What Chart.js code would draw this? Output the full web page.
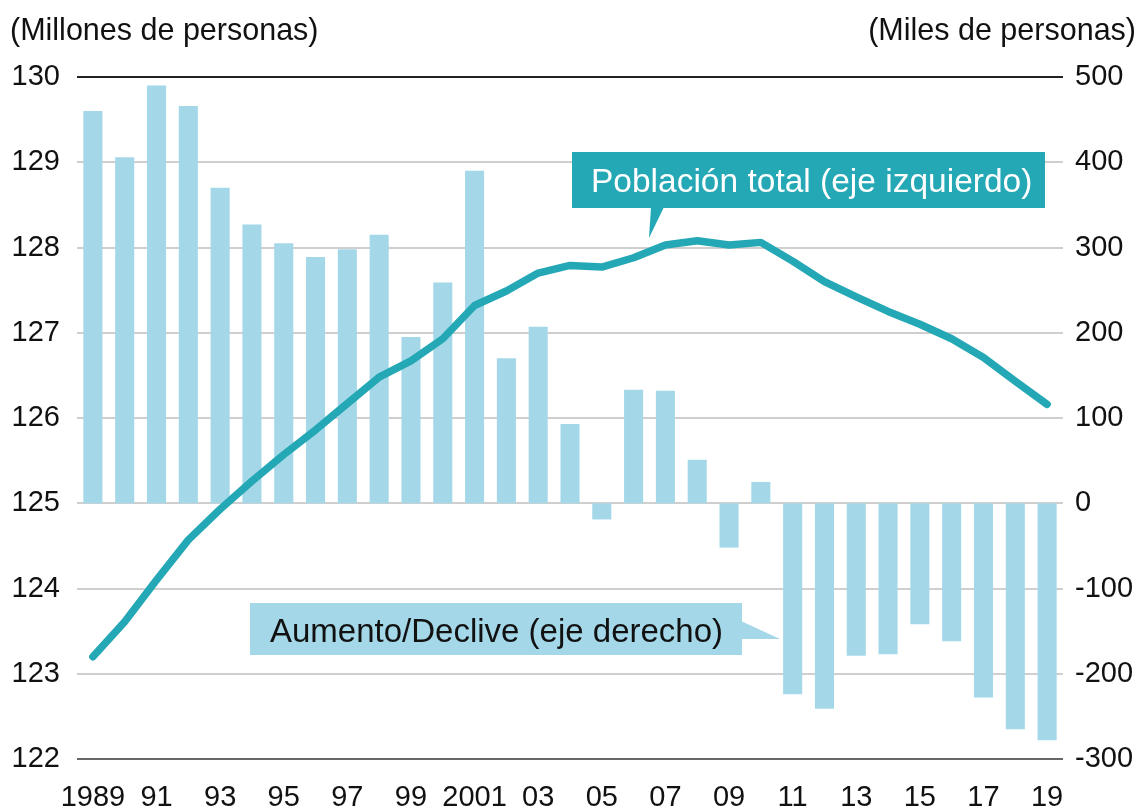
<!DOCTYPE html>
<html>
<head>
<meta charset="utf-8">
<script src="https://cdn.jsdelivr.net/npm/chart.js@4/dist/chart.umd.min.js"></script>
<style>
  html, body { margin: 0; padding: 0; background: #ffffff; }
  #wrap { width: 1142px; height: 811px; }
</style>
</head>
<body>
<div id="wrap"><canvas id="c" width="1142" height="811"></canvas></div>
<script>
// ---- Data ----
const years = [1989,1990,1991,1992,1993,1994,1995,1996,1997,1998,1999,2000,2001,2002,2003,2004,2005,2006,2007,2008,2009,2010,2011,2012,2013,2014,2015,2016,2017,2018,2019];
const xTickLabels = ['1989','','91','','93','','95','','97','','99','','2001','','03','','05','','07','','09','','11','','13','','15','','17','','19'];
// Aumento/Declive (miles de personas, eje derecho)
const changeThousands = [460,406,490,466,370,327,305,289,298,315,195,259,390,170,207,93,-19,133,132,51,-52,25,-224,-241,-179,-177,-142,-162,-228,-265,-278];
// Población total (millones de personas, eje izquierdo)
const populationMillions = [123.20,123.61,124.10,124.57,124.93,125.26,125.57,125.86,126.17,126.48,126.67,126.93,127.32,127.49,127.70,127.79,127.77,127.88,128.03,128.08,128.03,128.06,127.84,127.60,127.42,127.25,127.10,126.93,126.71,126.43,126.16];
const leftTicks = [122,123,124,125,126,127,128,129,130];
const rightTicks = [-300,-200,-100,0,100,200,300,400,500];
const leftAxisTitle = '(Millones de personas)';
const rightAxisTitle = '(Miles de personas)';
const lineLabel = 'Población total (eje izquierdo)';
const barLabel = 'Aumento/Declive (eje derecho)';

const FONT = "'Liberation Sans', Arial, Helvetica, sans-serif";
const TEAL = '#25a8b5';
const LIGHT = '#a4d8e9';

const overlay = {
  id: 'overlay',
  afterDatasetsDraw(chart) {
    const ctx = chart.ctx;
    ctx.save();
    // axis titles
    ctx.fillStyle = '#111';
    ctx.font = '30.5px ' + FONT;
    ctx.textBaseline = 'alphabetic';
    ctx.textAlign = 'left';
    ctx.fillText(leftAxisTitle, 10, 40);
    ctx.textAlign = 'right';
    ctx.fillText(rightAxisTitle, 1136, 40);

    // Población total callout
    ctx.fillStyle = TEAL;
    ctx.fillRect(572, 152, 473, 56);
    ctx.beginPath();
    ctx.moveTo(651, 207);
    ctx.lineTo(664, 207);
    ctx.lineTo(649, 238);
    ctx.closePath();
    ctx.fill();
    ctx.fillStyle = '#ffffff';
    ctx.textAlign = 'left';
    ctx.font = '33.5px ' + FONT;
    ctx.fillText(lineLabel, 591, 192);

    // Aumento/Declive callout
    ctx.fillStyle = LIGHT;
    ctx.fillRect(250, 603, 492, 52);
    ctx.beginPath();
    ctx.moveTo(741, 621);
    ctx.lineTo(780, 639);
    ctx.lineTo(741, 639);
    ctx.closePath();
    ctx.fill();
    ctx.fillStyle = '#111';
    ctx.font = '33px ' + FONT;
    ctx.fillText(barLabel, 270, 642);
    ctx.restore();
  }
};

new Chart(document.getElementById('c'), {
  data: {
    labels: years,
    datasets: [
      {
        type: 'line',
        label: lineLabel,
        data: populationMillions,
        yAxisID: 'yL',
        borderColor: TEAL,
        borderWidth: 7.5,
        pointRadius: 0,
        borderCapStyle: 'round',
        borderJoinStyle: 'round',
        tension: 0,
        order: 0
      },
      {
        type: 'bar',
        label: barLabel,
        data: changeThousands,
        yAxisID: 'yR',
        backgroundColor: LIGHT,
        borderWidth: 0,
        barPercentage: 0.6,
        categoryPercentage: 1.0,
        order: 1
      }
    ]
  },
  options: {
    responsive: false,
    animation: false,
    devicePixelRatio: 1,
    layout: { padding: { top: 77, left: 0, right: 0, bottom: 0 } },
    plugins: { legend: { display: false }, tooltip: { enabled: false } },
    scales: {
      x: {
        type: 'category',
        offset: true,
        grid: { display: false, drawTicks: false },
        border: { display: false },
        ticks: {
          autoSkip: false, maxRotation: 0, minRotation: 0, padding: 22,
          color: '#111', font: { family: FONT, size: 29 },
          callback: (v, i) => xTickLabels[i]
        },
        afterFit: s => { s.height = 52; }
      },
      yL: {
        type: 'linear', position: 'left', min: 122, max: 130,
        afterBuildTicks: s => { s.ticks = leftTicks.map(v => ({ value: v })); },
        grid: {
          drawTicks: false, lineWidth: 2,
          color: c => c.tick.value === 130 ? '#222' : (c.tick.value === 122 ? '#666' : '#cfcfcf')
        },
        border: { display: false },
        ticks: { padding: 17, color: '#111', font: { family: FONT, size: 29 } },
        afterFit: s => { s.width = 77; }
      },
      yR: {
        type: 'linear', position: 'right', min: -300, max: 500,
        afterBuildTicks: s => { s.ticks = rightTicks.map(v => ({ value: v })); },
        grid: { display: false, drawTicks: false },
        border: { display: false },
        ticks: { padding: 12, color: '#111', font: { family: FONT, size: 29 } },
        afterFit: s => { s.width = 79; }
      }
    }
  },
  plugins: [overlay]
});
</script>
</body>
</html>
